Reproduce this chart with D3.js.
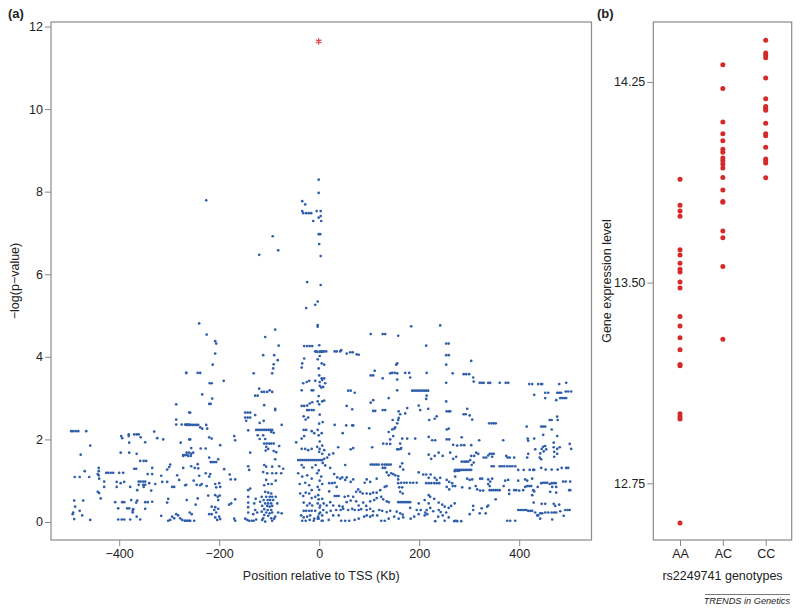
<!DOCTYPE html>
<html><head><meta charset="utf-8">
<script src="https://cdn.jsdelivr.net/npm/d3@7"></script>
<style>
body{margin:0;background:#fff}
svg{display:block}
text{font-family:"Liberation Sans",Arial,Helvetica,sans-serif;fill:#222}
</style>
</head><body>
<svg id="c" width="800" height="608"></svg>
<script>
// ---------- Panel (a) data: [position (Kb), -log(p)] ----------
const snpFarLeft = [
[-266,3.61],[-286,2.85],[-286,2.48],[-260,2.65],
[-496,2.2],[-492,2.2],[-487,2.2],[-482,2.2],[-466,2.2],
[-458,1.85],[-477,1.63],[-469,1.23],[-489,1.09],[-479,1.09],[-460,1.09],
[-490,0.52],[-472,0.52],[-488,0.37],[-479,0.27],[-492,0.23],[-493,0.19],[-474,0.16],[-490,0.07],[-458,0.05],
[-396,2.08],[-394,2.03],[-381,2.08],[-381,2.12],[-370,2.12],[-365,2.12],[-361,2.12],[-357,2.05],
[-380,1.92],[-348,1.93],[-330,2.19],[-324,2.03],[-312,2.0],
[-397,1.68],[-380,1.68],[-365,1.65],[-358,1.48],[-351,1.48],[-346,1.48],
[-370,1.29],[-366,1.29],[-334,1.31],[-300,1.33],[-304,1.27],[-298,1.39],
[-441,1.31],[-441,1.23],[-443,1.16],[-441,1.13],
[-426,1.19],[-422,1.19],[-417,1.19],[-412,1.19],[-400,1.19],[-392,1.19],
[-430,0.98],[-440,1.05],[-430,0.85],
[-405,0.97],[-405,0.85],[-397,0.94],[-390,0.97],[-378,0.85],
[-361,0.98],[-357,0.98],[-352,0.98],[-348,0.98],[-340,0.94],
[-343,1.16],[-334,1.16],
[-361,0.9],[-352,0.9],[-348,0.9],[-351,0.85],[-336,0.76],[-364,0.77],[-328,0.92],[-314,0.97],[-304,0.97],[-316,1.12],[-284,1.13],[-280,1.02],[-294,0.85],[-290,0.85],[-268,0.89],
[-443,0.73],[-440,0.7],[-437,0.57],
[-408,0.48],[-394,0.48],[-390,0.48],[-402,0.33],[-384,0.33],[-380,0.33],[-372,0.31],
[-376,0.53],[-366,0.47],[-364,0.52],[-373,0.23],[-373,0.27],
[-348,0.48],[-343,0.48],[-334,0.49],[-348,0.32],[-302,0.56],[-304,0.47],
[-402,0.06],[-395,0.06],[-390,0.06],[-378,0.06],[-365,0.13],[-358,0.06],[-316,0.15],
[-302,0.03],[-298,0.05],[-294,0.13],[-290,0.09],
[-286,0.19],[-282,0.16],[-278,0.09],[-274,0.05],[-269,0.03],[-264,0.03],[-260,0.03],
[-286,2.36],[-275,2.36],[-268,2.36],[-264,2.36],[-260,2.36],
[-277,1.92],[-272,1.62],[-268,1.62],[-264,1.62],[-272,1.6],[-260,2.0],[-272,1.31]
];
const snpLeft = [
[-240,4.81],[-225,4.54],[-208,4.38],[-206,4.32],[-208,4.08],[-213,3.81],[-266,3.61],[-243,3.61],[-238,3.61],
[-219,3.36],[-215,3.36],[-191,3.42],[-234,3.09],[-214,2.99],[-217,2.86],[-220,2.86],[-258,2.65],
[-266,2.35],[-262,2.35],[-258,2.35],[-254,2.35],[-250,2.35],[-246,2.35],[-242,2.35],
[-238,2.29],[-234,2.26],[-226,2.35],[-224,2.26],[-258,2.0],[-256,1.79],[-220,2.05],[-215,2.02],[-198,1.86],
[-170,2.08],[-168,1.98],[-237,1.78],[-227,1.78],[-265,1.68],[-260,1.68],[-256,1.65],[-252,1.68],[-262,1.6],[-257,1.6],
[-220,1.56],[-217,1.45],[-214,1.45],[-210,1.45],[-206,1.45],[-202,1.52],
[-256,1.35],[-243,1.4],[-249,1.31],[-242,1.3],[-240,1.12],[-227,1.18],[-218,1.16],[-220,1.1],[-190,1.28],
[-179,1.15],[-177,1.03],[-168,1.03],[-266,0.9],[-251,1.0],[-245,0.9],[-238,0.89],[-235,0.92],[-225,0.87],
[-208,0.92],[-200,0.94],[-198,0.85],[-206,0.84],[-265,0.53],[-243,0.57],[-247,0.42],
[-222,0.64],[-208,0.65],[-203,0.61],[-202,0.53],[-199,0.64],[-180,0.42],[-168,0.55],[-176,0.45],
[-215,0.37],[-208,0.36],[-202,0.32],[-259,0.23],[-255,0.19],[-220,0.19],[-215,0.19],[-210,0.29],[-206,0.23],
[-200,0.13],[-198,0.07],[-208,0.11],[-204,0.05],[-268,0.03],[-263,0.03],[-258,0.03],[-250,0.03],[-170,0.08],[-168,0.03]
];
const snpCentreLeft = [
[-108,4.48],[-88,4.66],[-81,4.27],[-112,4.04],[-90,4.04],[-83,3.92],[-91,3.82],[-92,3.72],[-94,3.6],[-131,3.6],
[-120,3.23],[-115,3.15],[-110,3.15],[-104,3.15],[-99,3.19],[-94,3.15],[-128,3.06],[-123,3.06],[-110,2.83],
[-88,2.71],[-88,2.74],[-148,2.65],[-143,2.65],[-138,2.65],[-148,2.53],[-143,2.53],[-138,2.53],[-146,2.45],
[-128,2.59],[-119,2.4],[-111,2.45],[-75,2.35],[-142,2.22],
[-126,2.23],[-122,2.23],[-118,2.23],[-114,2.23],[-110,2.23],[-106,2.23],[-102,2.23],[-98,2.23],[-94,2.23],
[-96,2.18],[-91,2.16],[-123,2.1],[-112,2.1],[-108,2.01],[-119,2.01],
[-110,1.9],[-105,1.9],[-100,1.9],[-96,1.9],[-91,1.9],
[-106,1.82],[-102,1.77],[-107,1.73],[-80,1.84],[-86,1.69],[-91,1.72],[-138,1.68],[-88,1.52],
[-142,1.35],[-140,1.26],[-110,1.38],[-106,1.34],[-94,1.34],[-80,1.35],[-72,1.29],
[-112,1.21],[-104,1.18],[-94,1.18],[-86,1.18],[-76,1.18],
[-106,1.02],[-102,0.92],[-110,0.89],[-95,0.92],[-87,1.0],
[-142,0.77],[-138,0.81],[-142,0.61],[-142,0.47],[-142,0.36],[-142,0.23],
[-108,0.73],[-102,0.71],[-96,0.69],[-115,0.61],[-106,0.61],[-99,0.61],[-94,0.61],
[-111,0.53],[-103,0.53],[-98,0.53],[-92,0.53],[-118,0.49],[-108,0.45],[-102,0.45],[-96,0.45],
[-114,0.39],[-104,0.39],[-99,0.37],[-94,0.39],[-110,0.31],[-103,0.29],[-96,0.29],
[-115,0.25],[-106,0.23],[-99,0.21],[-94,0.23],[-110,0.17],[-102,0.15],[-112,0.09],[-96,0.09],
[-127,0.56],[-130,0.45],[-128,0.29],[-132,0.19],[-124,0.23],[-87,0.61],[-84,0.45],[-82,0.23],[-75,0.21],[-88,0.13],
[-148,0.08],[-144,0.05],[-140,0.03],[-135,0.03],[-131,0.03],[-126,0.06],[-114,0.05],[-108,0.01],[-94,0.03],[-90,0.08],
[-226,7.79],[-93,6.92],[-82,6.58],[-120,6.47]
];
const snpCentre = [
[-1,8.29],[-1,7.97],[-34,7.77],[-28,7.69],[-34,7.53],[-32,7.48],[-26,7.48],[-21,7.48],[-16,7.48],
[-5,7.53],[3,7.53],[-1,7.37],[3,7.41],[4,7.29],[-12,7.29],[-1,6.97],[2,6.97],[0,6.73],[3,6.44],
[-24,5.81],[3,5.74],[-3,5.34],[-8,5.26],[-26,5.18],[-3,4.77],[-3,4.73],
[-30,4.26],[-24,4.26],[-19,4.26],[-14,4.26],[-8,4.13],[-6,4.13],[-4,4.12],[1,4.12],[6,4.12],
[-30,3.96],[-35,3.74],[-34,3.84],[-3,3.94],[5,3.84],
[-32,3.36],[-25,3.39],[-35,3.19],[-20,3.42],[-8,3.42],[1,3.39],[6,3.44],[-15,3.19],[-12,3.19],
[-35,2.81],[-30,2.81],[-24,2.71],[-20,2.71],[-15,2.71],[-11,2.71],[-24,2.82],[-19,2.87],[-14,2.9],[-3,2.92],[6,2.92],
[-31,2.56],[-27,2.48],[-22,2.53],[-46,1.93],[-31,2.23],[-26,2.23],[-30,2.08],[-35,2.02],
[-15,2.2],[-10,2.15],[-3,2.23],[5,2.15],[-35,1.77],[-28,1.77],[-22,1.74],[-15,1.77],
[-4,1.82],[1,1.77],[6,1.85],[10,1.74],
[-42,1.5],[-38,1.5],[-34,1.5],[-30,1.5],[-26,1.5],[-22,1.5],[-18,1.5],[-14,1.5],[-10,1.5],[-6,1.5],[-2,1.5],[2,1.5],[6,1.5],
[-35,1.38],[-31,1.32],[-14,1.32],[-7,1.38],[-42,1.18],[-34,1.1],[-24,1.13],[-15,1.05],[-4,1.18],[4,1.1],
[-39,0.92],[-28,0.95],[-20,0.89],[-15,0.77],[-3,0.85],[6,0.92],
[-38,0.69],[-32,0.63],[-27,0.71],[-20,0.69],[-15,0.58],[-8,0.61],[-2,0.65],[6,0.56],
[-31,0.47],[-24,0.4],[-19,0.45],[-14,0.4],[-3,0.45],[2,0.4],[9,0.45],
[-31,0.27],[-26,0.27],[-20,0.27],[-15,0.27],[-8,0.27],
[-36,0.16],[-31,0.11],[-24,0.13],[-18,0.16],[-10,0.08],[-2,0.13],[6,0.16],
[-34,0.03],[-27,0.03],[-19,0.05],[-11,0.03],[-3,0.08],[5,0.03],
[0,4.28],[1,4.02],[-1,3.72],[0,3.55],[1,3.3],[-1,3.05],[0,2.85],[1,2.6],[0,2.38],[-1,2.1],[1,1.95],[0,1.7],
[-1,1.25],[1,1.0],[0,0.78],[-1,0.55],[1,0.35],[0,0.2],[-1,0.08]
];
const snpCentreRight = [
[103,4.55],[127,4.55],[132,4.55],[158,4.51],[184,4.74],[242,4.76],[214,4.27],[254,4.32],[259,4.32],[254,4.04],[259,4.04],
[254,3.81],[254,3.37],[267,3.6],
[2,4.13],[6,4.13],[10,4.13],[14,4.13],[31,4.13],[35,4.13],[42,4.13],[44,4.16],
[55,4.08],[62,4.11],[67,4.11],[75,4.06],[79,4.05],[10,3.81],[5,3.48],[10,3.48],[12,3.36],[8,3.27],[4,3.26],
[156,3.84],[154,3.81],[103,3.55],[108,3.55],[111,3.66],[127,3.48],[142,3.6],[146,3.61],[151,3.61],[156,3.6],
[156,3.45],[156,3.19],[172,3.61],[180,3.61],[182,3.5],[215,3.61],[58,3.18],[63,3.18],[71,3.13],
[186,3.18],[190,3.18],[194,3.18],[198,3.18],[202,3.18],[206,3.18],[210,3.18],[214,3.18],[218,3.18],
[215,3.06],[214,2.98],[139,3.0],[103,2.89],[108,2.95],[10,2.94],[55,2.81],[66,2.73],
[108,2.69],[112,2.69],[127,2.71],[132,2.71],[159,2.68],[162,2.61],[176,2.76],[172,2.63],
[199,2.82],[202,2.71],[218,2.74],[254,2.92],[255,2.68],[259,2.68],[262,2.68],[235,2.56],[231,2.5],[220,2.47],
[147,2.47],[156,2.39],[158,2.47],[159,2.52],[7,2.42],[31,2.35],[54,2.34],[66,2.34],[68,2.34],[47,2.15],[100,2.27],
[139,2.18],[146,2.24],[150,2.26],[152,2.29],[148,2.08],[142,2.0],[255,2.24],[259,2.26],
[166,2.02],[176,2.02],[192,2.02],[162,1.9],[164,1.79],[159,1.76],[219,2.06],[226,1.98],[232,1.98],
[255,2.0],[260,2.0],[268,1.87],[276,1.85],[128,1.9],[135,1.89],[142,1.89],[63,1.76],[68,1.79],[38,1.81],[106,1.81],
[156,1.76],[163,1.77],[180,1.65],[219,1.63],[224,1.53],[231,1.6],[239,1.68],[247,1.6],[262,1.68],[268,1.53],[274,1.58],
[6,1.65],[10,1.53],[16,1.56],[20,1.63],[28,1.66],[7,1.43],[12,1.37],[52,1.38],
[103,1.39],[107,1.39],[111,1.39],[115,1.39],[119,1.39],[126,1.39],[131,1.39],[135,1.39],[139,1.39],[143,1.39],
[127,1.31],[132,1.31],[166,1.42],[162,1.34],[168,1.27],[22,1.31],[30,1.16],[36,1.08],[42,1.05],[46,1.08],
[20,0.94],[26,0.94],[31,0.95],[35,0.85],[52,1.02],[55,1.08],[63,0.97],[68,1.03],[91,0.95],[95,1.03],[102,0.97],[115,1.05],
[135,1.2],[139,1.13],[144,1.18],[148,1.16],[152,1.13],[158,1.11],[158,1.03],[158,0.94],[160,0.84],[162,0.73],
[164,0.95],[170,0.95],[175,0.95],[182,0.95],[188,0.95],[195,0.95],[166,0.84],[167,0.69],
[199,1.2],[208,1.15],[214,1.15],[223,1.15],[219,1.07],[231,1.07],[235,1.02],[242,1.07],
[214,0.94],[219,0.94],[224,0.94],[230,0.94],[235,0.94],[240,0.94],
[255,1.02],[260,0.97],[266,0.94],[271,1.23],[276,1.24],[280,1.24],[255,0.85],[260,0.79],[267,0.87],
[20,0.74],[31,0.63],[35,0.63],[39,0.63],[51,0.61],[58,0.63],[68,0.61],[74,0.73],[78,0.79],[82,0.73],[87,0.69],
[95,0.69],[102,0.68],[108,0.71],[115,0.71],[122,0.77],[131,0.85],[135,0.87],
[22,0.48],[15,0.4],[28,0.4],[40,0.39],[47,0.37],[55,0.48],[63,0.52],[74,0.5],[79,0.4],[88,0.47],[94,0.39],[102,0.5],
[110,0.53],[115,0.58],[124,0.61],[128,0.55],[135,0.5],[139,0.48],
[158,0.48],[162,0.48],[166,0.48],[170,0.48],[174,0.48],[178,0.48],[182,0.48],
[199,0.45],[211,0.53],[219,0.65],[219,0.45],[222,0.61],[230,0.56],[239,0.47],[246,0.42],[251,0.37],[259,0.34],[264,0.39],[271,0.45],
[8,0.29],[2,0.23],[15,0.23],[23,0.27],[34,0.29],[43,0.29],[48,0.32],[58,0.29],[66,0.32],[71,0.29],[79,0.29],[84,0.31],
[95,0.29],[102,0.32],[108,0.26],[120,0.29],[126,0.27],[135,0.24],[142,0.27],[155,0.25],[162,0.21],[167,0.18],[182,0.34],
[195,0.29],[203,0.29],[212,0.23],[215,0.29],[222,0.34],[228,0.26],[239,0.29],[243,0.24],[247,0.16],[254,0.23],
[7,0.03],[19,0.05],[28,0.16],[39,0.16],[44,0.03],[52,0.03],[60,0.03],[71,0.05],[79,0.08],[90,0.13],[95,0.16],[102,0.13],
[107,0.16],[116,0.16],[124,0.03],[131,0.03],[139,0.08],[150,0.13],[159,0.08],[168,0.11],[183,0.08],[190,0.13],[199,0.19],
[211,0.16],[216,0.19],[232,0.02],[238,0.13],[251,0.03],[259,0.11],[270,0.02],[276,0.02]
];
const snpRight = [
[304,3.9],[289,3.58],[294,3.58],[300,3.58],[308,3.5],[309,3.4],
[321,3.37],[325,3.37],[329,3.37],[338,3.37],[342,3.37],[361,3.37],[373,3.37],[378,3.37],
[420,3.34],[426,3.34],[438,3.34],[444,3.34],[446,3.34],[480,3.34],[494,3.37],[430,3.08],[452,3.13],[458,3.13],
[476,3.13],[480,3.13],[484,3.13],[493,3.16],[498,3.16],[504,3.16],[482,3.0],[486,3.0],[490,3.0],[494,3.0],[452,3.0],[474,2.95],
[296,2.74],[289,2.61],[293,2.61],[301,2.58],[306,2.48],[340,2.39],[345,2.39],[349,2.39],[353,2.39],[415,2.31],
[444,2.31],[448,2.31],[452,2.31],[461,2.47],[465,2.47],[476,2.55],[477,2.47],[465,2.24],[448,2.11],[476,2.08],
[285,2.05],[320,1.98],[368,1.98],[417,2.02],[418,1.97],[430,2.02],[284,1.86],[290,1.86],[304,1.86],[432,1.76],
[445,1.77],[448,1.82],[452,1.84],[454,1.76],[449,1.71],[442,1.66],[441,1.56],[444,1.52],
[469,1.92],[469,1.81],[476,1.77],[481,1.81],[501,1.89],[504,1.77],[470,1.7],[470,1.58],[476,1.65],
[314,1.68],[318,1.65],[310,1.6],[304,1.6],[302,1.5],[298,1.46],[294,1.46],[290,1.46],[285,1.46],[305,1.38],[309,1.44],
[329,1.56],[334,1.56],[338,1.61],[341,1.65],[345,1.65],[349,1.65],[346,1.58],[374,1.6],[377,1.56],[381,1.56],[390,1.56],
[418,1.65],[416,1.56],
[272,1.26],[276,1.26],[280,1.26],[284,1.26],[288,1.26],[292,1.26],[296,1.26],[300,1.26],[304,1.26],
[345,1.35],[349,1.35],[361,1.35],[365,1.35],[370,1.35],[376,1.35],[381,1.35],[386,1.35],[392,1.35],
[398,1.26],[409,1.26],[421,1.26],[428,1.26],[430,1.26],
[444,1.31],[453,1.27],[465,1.27],[477,1.27],[485,1.31],[494,1.31],[498,1.31],
[272,1.1],[296,1.05],[301,1.02],[306,1.03],[322,1.05],[326,1.05],[338,1.03],[342,0.98],[346,1.05],[338,0.92],
[372,1.0],[378,1.02],[398,1.0],[412,1.03],[416,1.0],[426,1.05],
[272,0.87],[286,0.84],[301,0.82],[313,0.87],[316,0.79],[322,0.76],[328,0.76],
[341,0.87],[341,0.77],[345,0.77],[349,0.77],[353,0.77],[357,0.77],[361,0.77],
[369,0.87],[380,0.77],[380,0.68],[390,0.77],[394,0.77],[400,0.76],[408,0.77],[412,0.85],[416,0.87],[420,0.87],[424,0.87],
[428,0.77],[426,0.65],[430,0.74],[437,0.85],
[444,0.94],[448,0.95],[452,0.95],[456,0.95],[461,0.92],[465,0.94],[469,0.94],[473,0.94],[466,0.85],[474,0.85],[462,0.73],[474,0.71],
[488,0.98],[493,0.98],[502,0.98],[502,0.77],[500,0.77],[353,0.55],
[429,0.47],[445,0.44],[452,0.44],[469,0.44],[472,0.39],[480,0.42],
[308,0.39],[308,0.29],[325,0.33],[336,0.37],[338,0.4],[321,0.21],[333,0.21],[301,0.19],
[398,0.29],[402,0.29],[406,0.29],[410,0.29],[414,0.29],[418,0.27],[422,0.27],[426,0.27],[432,0.23],[436,0.16],[438,0.16],
[442,0.21],[446,0.21],[452,0.23],[458,0.23],[465,0.23],[470,0.23],[474,0.23],[482,0.26],[492,0.29],[497,0.29],[501,0.29],
[442,0.08],[466,0.06],[489,0.15],[273,0.03],[284,0.02],[376,0.03],[382,0.03],[392,0.03]
];
const topHit = [[-1, 11.64]];
const xTicksA = [-400, -200, 0, 200, 400];
const yTicksA = [0, 2, 4, 6, 8, 10, 12];

// ---------- Panel (b) data ----------
const genotypes = ["AA", "AC", "CC"];
const exprAA = [13.886,13.789,13.768,13.748,13.623,13.603,13.572,13.550,13.540,13.502,13.480,13.373,13.338,13.294,13.249,13.194,13.189,13.010,13.000,12.990,12.602];
const exprAC = [14.314,14.225,14.100,14.056,14.030,13.998,13.987,13.966,13.955,13.943,13.928,13.893,13.846,13.803,13.800,13.693,13.668,13.560,13.288];
const exprCC = [14.406,14.358,14.350,14.340,14.265,14.187,14.158,14.151,14.144,14.096,14.056,14.049,14.006,13.962,13.955,13.947,13.892];
const yTicksB = [12.75, 13.50, 14.25];

// ---------- drawing ----------
const svg = d3.select("#c");
const frameCol = "#8a8a8a";
const blue = "#2f5eaa";
const red = "#d42a2a";

// Panel (a)
const A = {l: 51, r: 591.5, t: 22, b: 540};
const xA = d3.scaleLinear().domain([-536.4, 544.6]).range([A.l, A.r]);
const yA = d3.scaleLinear().domain([-0.436, 12.109]).range([A.b, A.t]);
const gA = svg.append("g");

const snps = [].concat(snpFarLeft, snpLeft, snpCentreLeft, snpCentre, snpCentreRight, snpRight);
gA.append("g").selectAll("circle").data(snps).join("circle")
  .attr("cx", d => xA(d[0])).attr("cy", d => yA(d[1])).attr("r", 1.35).attr("fill", blue);

gA.append("g").selectAll("path").data(topHit).join("path")
  .attr("transform", d => `translate(${xA(d[0])},${yA(d[1])})`)
  .attr("d", d3.symbol(d3.symbolAsterisk).size(28))
  .attr("fill", "none").attr("stroke", "#e04040").attr("stroke-width", 1.3);

const axA_x = gA.append("g").attr("transform", `translate(0,${A.b})`)
  .call(d3.axisBottom(xA).tickValues(xTicksA).tickSize(6).tickPadding(3)
  .tickFormat(d => (d < 0 ? "\u2212" + Math.abs(d) : d)));
const axA_y = gA.append("g").attr("transform", `translate(${A.l},0)`)
  .call(d3.axisLeft(yA).tickValues(yTicksA).tickSize(6).tickPadding(2));
[axA_x, axA_y].forEach(ax => {
  ax.select(".domain").remove();
  ax.selectAll("line").attr("stroke", frameCol);
  ax.selectAll("text").attr("font-size", 12.5).attr("font-family", "Liberation Sans, Arial, sans-serif").attr("fill", "#222");
});
gA.append("rect").attr("x", A.l).attr("y", A.t).attr("width", A.r - A.l).attr("height", A.b - A.t)
  .attr("fill", "none").attr("stroke", frameCol).attr("stroke-width", 1.2);

gA.append("text").attr("x", (A.l + A.r) / 2).attr("y", 580).attr("text-anchor", "middle")
  .attr("font-size", 12.5).text("Position relative to TSS (Kb)");
gA.append("text").attr("transform", `translate(19,${(A.t + A.b) / 2}) rotate(-90)`)
  .attr("text-anchor", "middle").attr("font-size", 12.5).text("\u2212log(p\u2212value)");
gA.append("text").attr("x", 8).attr("y", 18).attr("font-size", 13).attr("font-weight", "bold").text("(a)");

// Panel (b)
const B = {l: 653.3, r: 791.7, t: 22, b: 540};
const xB = d3.scalePoint().domain(genotypes).range([680, 765.7]);
const yB = d3.scaleLinear().domain([12.538, 14.474]).range([B.b, B.t]);
const gB = svg.append("g");
const exprGroups = [["AA", exprAA], ["AC", exprAC], ["CC", exprCC]];
const ptsB = exprGroups.flatMap(([g, vals]) => vals.map(v => [g, v]));
gB.append("g").selectAll("circle").data(ptsB).join("circle")
  .attr("cx", d => xB(d[0])).attr("cy", d => yB(d[1])).attr("r", 2.5).attr("fill", red);

const axB_x = gB.append("g").attr("transform", `translate(0,${B.b})`)
  .call(d3.axisBottom(xB).tickSize(6).tickPadding(3));
const axB_y = gB.append("g").attr("transform", `translate(${B.l},0)`)
  .call(d3.axisLeft(yB).tickValues(yTicksB).tickSize(6).tickPadding(2).tickFormat(d3.format(".2f")));
[axB_x, axB_y].forEach(ax => {
  ax.select(".domain").remove();
  ax.selectAll("line").attr("stroke", frameCol);
  ax.selectAll("text").attr("font-size", 12.5).attr("font-family", "Liberation Sans, Arial, sans-serif").attr("fill", "#222");
});
gB.append("rect").attr("x", B.l).attr("y", B.t).attr("width", B.r - B.l).attr("height", B.b - B.t)
  .attr("fill", "none").attr("stroke", frameCol).attr("stroke-width", 1.2);
gB.append("text").attr("x", (B.l + B.r) / 2).attr("y", 580).attr("text-anchor", "middle")
  .attr("font-size", 12.5).text("rs2249741 genotypes");
gB.append("text").attr("transform", `translate(611,${(B.t + B.b) / 2}) rotate(-90)`)
  .attr("text-anchor", "middle").attr("font-size", 12.5).text("Gene expression level");
gB.append("text").attr("x", 597).attr("y", 18).attr("font-size", 13).attr("font-weight", "bold").text("(b)");

// credit
svg.append("line").attr("x1", 705).attr("x2", 790).attr("y1", 594.5).attr("y2", 594.5)
  .attr("stroke", "#555").attr("stroke-width", 0.8);
svg.append("text").attr("x", 790).attr("y", 604).attr("text-anchor", "end")
  .attr("font-size", 9.2).attr("font-style", "italic").text("TRENDS in Genetics");
</script>
</body></html>
